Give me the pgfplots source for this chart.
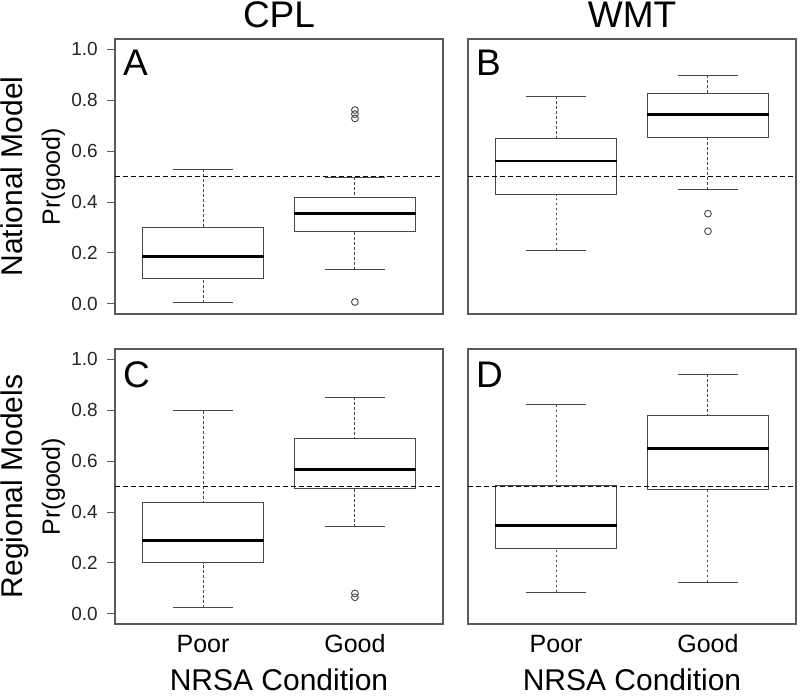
\documentclass[border=0pt]{standalone}
\usepackage{fontspec}
\setmainfont{Liberation Sans}
\usepackage{pgfplots}
\pgfplotsset{compat=1.18}
\usepgfplotslibrary{statistics}
\colorlet{framegray}{black!65}
\colorlet{boxgray}{black!72}
\tikzset{
  letter/.style={anchor=north west, inner sep=0pt, font=\fontsize{37}{37}\selectfont},
  halfline/.style={black, line width=1.3pt, dash pattern=on 5pt off 3pt},
}
\pgfplotsset{
  rpanel/.style={
    scale only axis, width=328pt, height=275pt,
    xmin=0.42, xmax=2.58, ymin=-0.04, ymax=1.04,
    axis line style={draw=framegray, line width=1.1pt},
    xtick=\empty, ytick=\empty, clip=false,
    tick style={framegray, line width=0.9pt},
    xtick pos=bottom, ytick pos=left,
    tick align=outside, major tick length=8pt,
    boxplot/draw direction=y,
  },
  leftpanel/.style={
    ytick={0,0.2,0.4,0.6,0.8,1.0},
    yticklabels={0.0,0.2,0.4,0.6,0.8,1.0},
    yticklabel style={font=\fontsize{19}{19}\selectfont, text=black!85, anchor=east, inner sep=0pt, xshift=-9pt},
    ylabel={Pr(good)},
    every axis y label/.style={at={(axis description cs:-0.1677,0.5)}, rotate=90, anchor=base, font=\fontsize{25}{25}\selectfont},
  },
  bottompanel/.style={
    xtick={1,2}, xticklabels={Poor,Good},
    major x tick style={draw=none},
    xticklabel style={font=\fontsize{25}{25}\selectfont, anchor=base, inner sep=0pt, yshift=-20pt},
    xlabel={NRSA Condition},
    every axis x label/.style={at={(axis description cs:0.5,-0.24)}, anchor=base, inner sep=0pt, font=\fontsize{30}{30}\selectfont},
  },
  coltitle/.style={
    title={#1},
    every axis title/.style={at={(axis description cs:0.5,1.04)}, anchor=base, font=\fontsize{37}{37}\selectfont},
  },
  rbox/.style={
    black, solid, mark=o, mark size=3.4pt,
    mark options={boxgray, line width=0.9pt, solid},
    boxplot/draw direction=y,
    boxplot/every box/.style={draw=boxgray, line width=1pt},
    boxplot/every median/.style={draw=black, line width=2.8pt},
    boxplot/whisker extend=0.4,
    boxplot/box extend=0.8,
    boxplot/draw/lower whisker/.code={%
      \draw[boxgray, line width=0.9pt, dash pattern=on 2.8pt off 2.2pt]
        (boxplot cs:\pgfplotsboxplotvalue{lower whisker}) -- (boxplot cs:\pgfplotsboxplotvalue{lower quartile});
      \draw[boxgray, line width=1pt, solid]
        (boxplot whisker cs:\pgfplotsboxplotvalue{lower whisker},0) -- (boxplot whisker cs:\pgfplotsboxplotvalue{lower whisker},1);
    },
    boxplot/draw/upper whisker/.code={%
      \draw[boxgray, line width=0.9pt, dash pattern=on 2.8pt off 2.2pt]
        (boxplot cs:\pgfplotsboxplotvalue{upper whisker}) -- (boxplot cs:\pgfplotsboxplotvalue{upper quartile});
      \draw[boxgray, line width=1pt, solid]
        (boxplot whisker cs:\pgfplotsboxplotvalue{upper whisker},0) -- (boxplot whisker cs:\pgfplotsboxplotvalue{upper whisker},1);
    },
  },
}
\begin{document}
\begin{tikzpicture}
\useasboundingbox (0pt,0pt) rectangle (800pt,696pt);
% ---------- A ----------
\begin{axis}[rpanel, leftpanel, coltitle=CPL, at={(115pt,382pt)}, anchor=south west]
\addplot[boxplot prepared={draw position=1, lower whisker=0.005, lower quartile=0.098, median=0.187, upper quartile=0.298, upper whisker=0.528}, rbox] coordinates {};
\addplot[boxplot prepared={draw position=2, lower whisker=0.133, lower quartile=0.285, median=0.354, upper quartile=0.417, upper whisker=0.497}, rbox] table[row sep=\\, y index=0] {0.761\\0.745\\0.728\\0.007\\};
\addplot[halfline] coordinates {(0.42,0.5) (2.58,0.5)};
\node[letter] at (axis description cs:0.0244,0.96) {A};
\node[rotate=90, anchor=base, font=\fontsize{30}{30}\selectfont] at (axis description cs:-0.2805,0.5) {National Model};
\end{axis}
% ---------- B ----------
\begin{axis}[rpanel, coltitle=WMT, at={(468pt,382pt)}, anchor=south west]
\addplot[boxplot prepared={draw position=1, lower whisker=0.210, lower quartile=0.429, median=0.561, upper quartile=0.651, upper whisker=0.816}, rbox] coordinates {};
\addplot[boxplot prepared={draw position=2, lower whisker=0.447, lower quartile=0.652, median=0.744, upper quartile=0.824, upper whisker=0.897}, rbox] table[row sep=\\, y index=0] {0.354\\0.285\\};
\addplot[halfline] coordinates {(0.42,0.5) (2.58,0.5)};
\node[letter] at (axis description cs:0.0244,0.96) {B};
\end{axis}
% ---------- C ----------
\begin{axis}[rpanel, leftpanel, bottompanel, at={(115pt,72pt)}, anchor=south west]
\addplot[boxplot prepared={draw position=1, lower whisker=0.024, lower quartile=0.201, median=0.289, upper quartile=0.439, upper whisker=0.797}, rbox] coordinates {};
\addplot[boxplot prepared={draw position=2, lower whisker=0.342, lower quartile=0.493, median=0.567, upper quartile=0.690, upper whisker=0.851}, rbox] table[row sep=\\, y index=0] {0.080\\0.065\\};
\addplot[halfline] coordinates {(0.42,0.5) (2.58,0.5)};
\node[letter] at (axis description cs:0.0244,0.953) {C};
\node[rotate=90, anchor=base, font=\fontsize{30}{30}\selectfont] at (axis description cs:-0.2805,0.5) {Regional Models};
\end{axis}
% ---------- D ----------
\begin{axis}[rpanel, bottompanel, at={(468pt,72pt)}, anchor=south west]
\addplot[boxplot prepared={draw position=1, lower whisker=0.084, lower quartile=0.258, median=0.346, upper quartile=0.505, upper whisker=0.822}, rbox] coordinates {};
\addplot[boxplot prepared={draw position=2, lower whisker=0.123, lower quartile=0.490, median=0.650, upper quartile=0.779, upper whisker=0.940}, rbox] coordinates {};
\addplot[halfline] coordinates {(0.42,0.5) (2.58,0.5)};
\node[letter] at (axis description cs:0.0244,0.953) {D};
\end{axis}
\end{tikzpicture}
\end{document}
